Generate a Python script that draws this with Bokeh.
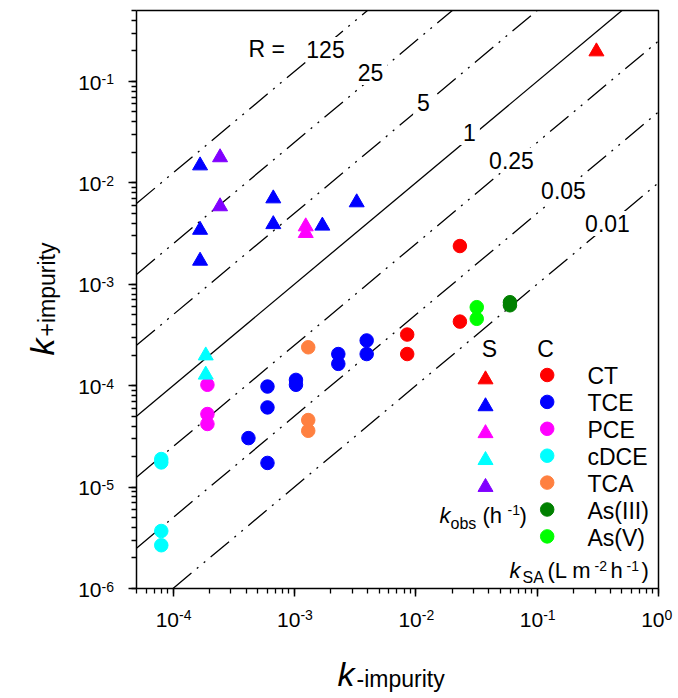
import math
from bokeh.plotting import figure
from bokeh.models import Range1d, LinearScale, Label, CustomJSTickFormatter
from bokeh.embed import file_html
from bokeh.resources import INLINE

# ---------------- data ----------------
R_values = [125, 25, 5, 1, 0.25, 0.05, 0.01]
R_labels = ["125", "25", "5", "1", "0.25", "0.05", "0.01"]

x_ticks = [1e-4, 1e-3, 1e-2, 1e-1, 1.0]
x_tick_exps = ["-4", "-3", "-2", "-1", "0"]
y_ticks = [1e-6, 1e-5, 1e-4, 1e-3, 1e-2, 1e-1]
y_tick_exps = ["-6", "-5", "-4", "-3", "-2", "-1"]

species = ["CT", "TCE", "PCE", "cDCE", "TCA", "As(III)", "As(V)"]
tri_colors = ["#FF0000", "#0000FF", "#FF00FF", "#00FFFF", "#8000FF"]
circ_colors = ["#FF0000", "#0000FF", "#FF00FF", "#00FFFF", "#FF8040", "#008000", "#00FF00"]

# S : triangles (k_obs)
s_ct_x = [0.308]
s_ct_y = [0.197]
s_tce_x = [1.67e-4, 6.7e-4, 1.67e-4, 6.7e-4, 1.70e-3, 3.26e-3, 1.67e-4]
s_tce_y = [1.48e-2, 7.0e-3, 3.43e-3, 3.9e-3, 3.77e-3, 6.4e-3, 1.70e-3]
s_pce_x = [1.24e-3, 1.24e-3]
s_pce_y = [3.71e-3, 3.19e-3]
s_cdce_x = [1.86e-4, 1.86e-4]
s_cdce_y = [1.98e-4, 1.28e-4]
s_tca_x = [2.44e-4, 2.44e-4]
s_tca_y = [1.78e-2, 5.85e-3]

# C : circles (k_SA)
c_ct_x = [2.31e-2, 2.31e-2, 8.5e-3, 8.5e-3]
c_ct_y = [2.38e-3, 4.28e-4, 3.19e-4, 2.05e-4]
c_tce_x = [6.0e-4, 6.0e-4, 4.18e-4, 6.0e-4, 1.03e-3, 1.03e-3, 2.30e-3, 2.30e-3, 3.94e-3, 3.94e-3]
c_tce_y = [9.8e-5, 6.1e-5, 3.04e-5, 1.73e-5, 1.14e-4, 1.02e-4, 2.05e-4, 1.64e-4, 2.79e-4, 2.05e-4]
c_pce_x = [1.92e-4, 1.92e-4, 1.92e-4]
c_pce_y = [1.02e-4, 5.25e-5, 4.19e-5]
c_cdce_x = [8.0e-5, 8.0e-5, 8.0e-5, 8.0e-5]
c_cdce_y = [1.89e-5, 1.75e-5, 3.69e-6, 2.67e-6]
c_tca_x = [1.30e-3, 1.30e-3, 1.30e-3]
c_tca_y = [2.39e-4, 4.58e-5, 3.59e-5]
c_as3_x = [5.97e-2, 5.97e-2]
c_as3_y = [6.65e-4, 6.2e-4]
c_as5_x = [3.18e-2, 3.18e-2]
c_as5_y = [5.94e-4, 4.56e-4]

tri_series = [(s_ct_x, s_ct_y), (s_tce_x, s_tce_y), (s_pce_x, s_pce_y),
              (s_cdce_x, s_cdce_y), (s_tca_x, s_tca_y)]
circ_series = [(c_ct_x, c_ct_y), (c_tce_x, c_tce_y), (c_pce_x, c_pce_y),
               (c_cdce_x, c_cdce_y), (c_tca_x, c_tca_y), (c_as3_x, c_as3_y),
               (c_as5_x, c_as5_y)]

X_MIN, X_MAX = 5e-5, 1.0
Y_MIN, Y_MAX = 1e-6, 0.5

# ---------------- layout ----------------
FONT = "Liberation Sans"
W, H = 678, 698
# plot box in canvas pixels
BOX_L, BOX_R, BOX_T, BOX_B = 136, 658, 10, 588

lx0, lx1 = math.log10(X_MIN), math.log10(X_MAX)
ly0, ly1 = math.log10(Y_MIN), math.log10(Y_MAX)
dpx = (BOX_R - BOX_L) / (lx1 - lx0)
dpy = (BOX_B - BOX_T) / (ly1 - ly0)
xr = Range1d(10 ** (lx0 - BOX_L / dpx), 10 ** (lx1 + (W - BOX_R) / dpx))
yr = Range1d(10 ** (ly0 - (H - BOX_B) / dpy), 10 ** (ly1 + BOX_T / dpy))

p = figure(width=W, height=H, x_axis_type="log", y_axis_type="log",
           x_range=xr, y_range=yr,
           output_backend="svg", toolbar_location=None,
           min_border_left=0, min_border_right=0,
           min_border_top=0, min_border_bottom=0)
p.extra_x_ranges = {"px": Range1d(0, W)}
p.extra_y_ranges = {"px": Range1d(H, 0)}
p.extra_x_scales = {"px": LinearScale()}
p.extra_y_scales = {"px": LinearScale()}

p.xgrid.visible = False
p.ygrid.visible = False
p.background_fill_color = "white"
p.border_fill_color = "white"
p.outline_line_color = None

p.xaxis[0].fixed_location = Y_MIN
p.yaxis[0].fixed_location = X_MIN
p.xaxis[0].bounds = (X_MIN, X_MAX)
p.yaxis[0].bounds = (Y_MIN, Y_MAX)
for ax in (p.xaxis[0], p.yaxis[0]):
    ax.formatter = CustomJSTickFormatter(code="return '';")
    ax.major_label_text_font_size = "0px"
    ax.axis_line_color = "black"
    ax.axis_line_width = 1.5
    ax.major_tick_line_color = "black"
    ax.minor_tick_line_color = "black"
    ax.major_tick_line_width = 1.5
    ax.minor_tick_line_width = 1.3
    ax.major_tick_in = 0
    ax.major_tick_out = 8
    ax.minor_tick_in = 0
    ax.minor_tick_out = 5

# plot box (top & right sides; left/bottom are the axes)
p.line([X_MIN, X_MAX, X_MAX], [Y_MAX, Y_MAX, Y_MIN], line_color="black", line_width=1.5)


def txt(x, y, s, size, xr="px", yr="px", align="left", style="normal",
        angle=0.0, xo=0, yo=0, bg=None, pad=0):
    """Place text whose alphabetic baseline passes through (x, y)."""
    shift = 0.35 * size  # baseline -> vertical middle of the text box
    p.add_layout(Label(x=x, y=y, text=s, x_range_name=xr, y_range_name=yr,
                       text_font=FONT, text_font_size=f"{size}px",
                       text_font_style=style, text_align=align,
                       text_baseline="middle", angle=angle,
                       x_offset=xo - shift * math.sin(angle),
                       y_offset=yo + shift * math.cos(angle),
                       text_color="black", background_fill_color=bg,
                       padding=pad))


# ---------------- reference lines (clipped to the plot box) ----------------
for R in R_values:
    xa = max(X_MIN, Y_MIN / R)
    xb = min(X_MAX, Y_MAX / R)
    dash = "solid" if R == 1 else "24 7 2 7 2 7"
    p.line([xa, xb], [R * xa, R * xb], line_color="black", line_width=1.3, line_dash=dash)

# ---------------- data points ----------------
for (xs, ys), col in zip(circ_series, circ_colors):
    p.scatter(xs, ys, marker="circle", size=13.5, fill_color=col, line_color=col)
for (xs, ys), col in zip(tri_series, tri_colors):
    p.scatter(xs, ys, marker="triangle", size=15, fill_color=col, line_color=col)

# ---------------- tick labels ----------------
for t, e in zip(x_ticks, x_tick_exps):
    txt(t, 627, "10", 21, xr="default", align="right", xo=6)
    txt(t, 619, e, 14, xr="default", align="left", xo=6)
for t, e in zip(y_ticks, y_tick_exps):
    txt(101, t, "10", 21, yr="default", align="right", yo=-8.5)
    txt(101, t, e, 14, yr="default", align="left", yo=-3)

# ---------------- axis titles ----------------
txt(337, 685, "k", 34, style="italic")
txt(356, 687, "-impurity", 23)
txt(53, 355, "k", 34, style="italic", angle=math.pi / 2)
txt(55, 336, "+impurity", 23, angle=math.pi / 2)

# ---------------- R labels (white boxes interrupt the lines) ----------------
txt(248, 57, "R =", 23)
R_label_pos = [(325, 57), (370, 80), (423, 110.5), (469, 140), (511, 168),
               (563, 198), (607, 231)]
for lab, (ix, iy) in zip(R_labels, R_label_pos):
    txt(ix, iy, lab, 23, align="center", bg="white", pad=4)

# ---------------- legend ----------------
txt(489, 357, "S", 23, align="center")
txt(545, 357, "C", 23, align="center")
row0, drow = 374.5, 26.9
for i, (name, col) in enumerate(zip(species, circ_colors)):
    ry = row0 + drow * i
    p.scatter([546.7], [ry], marker="circle", size=13.5, fill_color=col,
              line_color=col, x_range_name="px", y_range_name="px")
    txt(587, ry + 9.5, name, 23)
for i, col in enumerate(tri_colors):
    ry = row0 + drow * i + 4.5
    p.scatter([485], [ry], marker="triangle", size=15, fill_color=col,
              line_color=col, x_range_name="px", y_range_name="px")

# k_obs (h^-1)
txt(439, 523, "k", 22, style="italic")
txt(450, 529, "obs", 16)
txt(482, 523, "(h", 22)
txt(507, 514, "-1", 14)
txt(519, 523, ")", 22)

# k_SA (L m^-2 h^-1)
txt(509, 578, "k", 22, style="italic")
txt(522, 583, "SA", 16)
txt(547, 578, "(L m", 22)
txt(594, 570, "-2", 14)
txt(610, 578, "h", 22)
txt(626, 570, "-1", 14)
txt(641, 578, ")", 22)

open("out.html", "w").write(file_html(p, INLINE))
